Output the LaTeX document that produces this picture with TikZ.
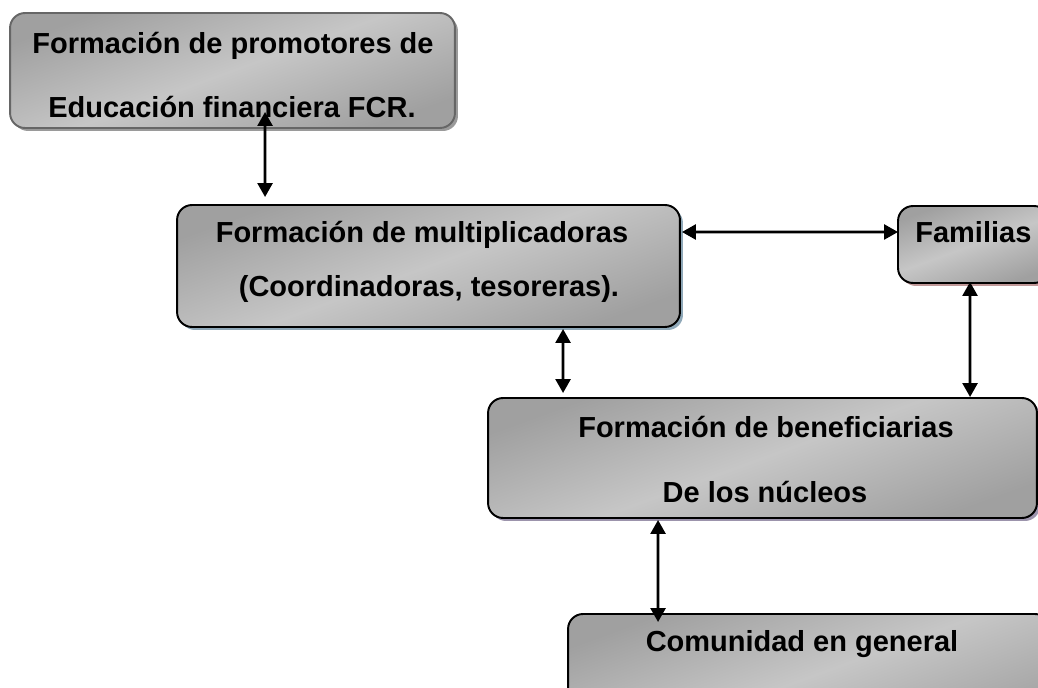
\documentclass[tikz,border=0pt]{standalone}
\usepackage{fontspec}
\setmainfont{Liberation Sans}
\usetikzlibrary{arrows.meta,shadows,calc}
\definecolor{shA}{HTML}{9A9A9A}
\definecolor{shB}{HTML}{8FA8B8}
\definecolor{shC}{HTML}{C09898}
\definecolor{shD}{HTML}{9C94AC}
\definecolor{gDark}{HTML}{A0A0A0}
\definecolor{gLight}{HTML}{C6C6C6}
\tikzset{
  box/.style={rounded corners=0.3cm, draw=black, line width=1.1pt, outer sep=0pt,
    shading=axis, top color=gDark, bottom color=gDark, middle color=gLight, shading angle=20,
    inner sep=0pt},
  lbl/.style={font=\fontsize{16.5}{20}\selectfont\bfseries, inner sep=0pt, anchor=base},
  arr/.style={line width=1.5pt, {Triangle[length=0.28cm,width=0.3cm]}-{Triangle[length=0.28cm,width=0.3cm]}},
}
\begin{document}
\begin{tikzpicture}[x=0.02cm,y=-0.02cm]
\useasboundingbox (0,0) rectangle (1038,688);
\clip (0,0) rectangle (1038,688);
% boxes
\node[box, draw=black!60, minimum width=8.9cm, minimum height=2.3cm,
  drop shadow={shadow xshift=0.06cm, shadow yshift=-0.06cm, fill=shA, opacity=1}] (b1) at (232.5,70.5) {};
\node[box, minimum width=10.06cm, minimum height=2.44cm,
  drop shadow={shadow xshift=0.06cm, shadow yshift=-0.06cm, fill=shB, opacity=1}] (b2) at (428.5,266) {};
\node[box, minimum width=3.02cm, minimum height=1.54cm,
  drop shadow={shadow xshift=0.06cm, shadow yshift=-0.06cm, fill=shC, opacity=1}] (b3) at (973.5,244.5) {};
\node[box, minimum width=10.98cm, minimum height=2.4cm,
  drop shadow={shadow xshift=0.06cm, shadow yshift=-0.06cm, fill=shD, opacity=1}] (b4) at (762.5,458) {};
\node[box, minimum width=9.64cm, minimum height=2.52cm] (b5) at (809,677) {};
% texts
\node[lbl] (t1a) at (233,54) {Formación de promotores de};
\node[lbl] (t1b) at (232,118) {Educación financiera FCR.};
\node[lbl] (t2a) at (422,243) {Formación de multiplicadoras};
\node[lbl] (t2b) at (429,297) {(Coordinadoras, tesoreras).};
\node[lbl, anchor=base west] (t3) at (915,243) {Familias};
\node[lbl] (t4a) at (766,438) {Formación de beneficiarias};
\node[lbl] (t4b) at (765,503) {De los núcleos};
\node[lbl] (t5) at (802,652) {Comunidad en general};
% connectors
\draw[arr] ($(b1.south west)+(255,-16)$) -- ($(b2.north west)+(88,-8)$);
\draw[arr] ($(b2.north east)+(2,27)$) -- ($(b3.west)+(0,-12.5)$);
\draw[arr] ($(b2.south west)+(386,2)$) -- ($(b4.north west)+(75,-5)$);
\draw[arr] ($(b3.south west)+(72,-1)$) -- ($(b4.north west)+(482,-1)$);
\draw[arr] ($(b4.south west)+(170,2)$) -- ($(b5.north west)+(90,8)$);
\end{tikzpicture}
\end{document}
